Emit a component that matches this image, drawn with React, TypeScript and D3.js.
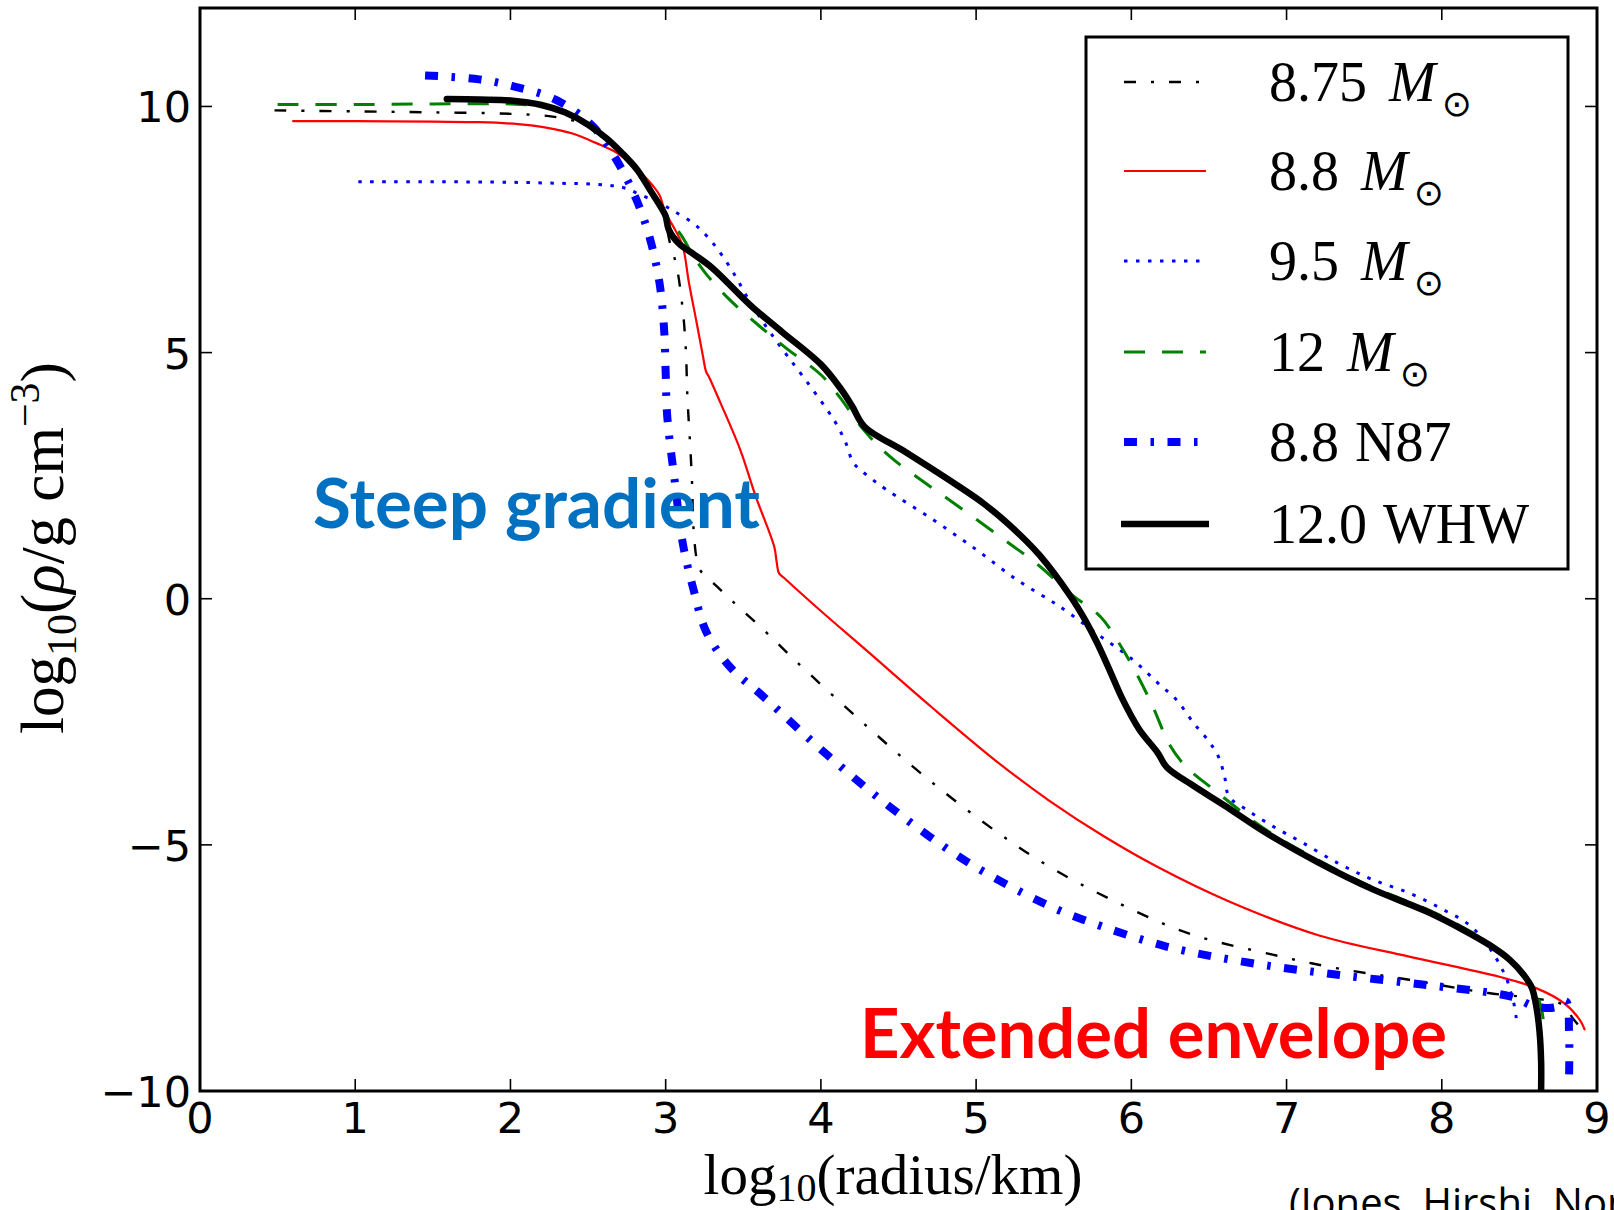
import React from 'react';
import * as d3 from 'd3';

type Pt = [number, number];

// Axis ticks
const xTicks = [0, 1, 2, 3, 4, 5, 6, 7, 8, 9];
const yTicks = [-10, -5, 0, 5, 10];

// Density profiles: [log10(radius/km), log10(rho / g cm^-3)]
const m875: Pt[] = [
  [0.48, 9.92], [1.0, 9.9], [1.5, 9.88], [2.0, 9.85], [2.3, 9.78], [2.5, 9.6], [2.7, 9.1],
  [2.85, 8.5], [2.97, 7.95], [3.03, 7.2], [3.07, 6.76], [3.11, 5.87], [3.13, 5.06], [3.14, 4.11],
  [3.16, 3.0], [3.17, 2.35], [3.18, 1.4], [3.2, 0.8], [3.22, 0.59], [3.33, 0.25], [3.43, -0.05],
  [3.63, -0.63], [3.84, -1.27], [4.25, -2.46], [4.68, -3.64], [5.13, -4.73], [5.47, -5.44],
  [5.85, -6.08], [6.36, -6.79], [6.91, -7.23], [7.33, -7.51], [7.79, -7.74], [8.3, -8.01],
  [8.6, -8.12], [8.78, -8.25], [8.85, -8.55], [8.92, -8.8],
];

const m88: Pt[] = [
  [0.6, 9.7], [1.0, 9.7], [1.5, 9.69], [1.8, 9.68], [2.05, 9.64], [2.23, 9.57], [2.4, 9.45],
  [2.55, 9.26], [2.68, 9.07], [2.77, 8.86], [2.85, 8.62], [2.92, 8.38], [2.96, 8.2], [3.0, 7.84],
  [3.06, 7.5], [3.11, 7.16], [3.15, 6.42], [3.2, 5.6], [3.24, 4.93], [3.26, 4.62], [3.28, 4.5],
  [3.35, 4.0], [3.48, 3.03], [3.58, 2.08], [3.7, 1.05], [3.715, 0.75], [3.73, 0.52],
  [3.76, 0.43], [4.0, -0.25], [4.29, -1.04], [4.72, -2.22], [5.15, -3.35], [5.47, -4.1],
  [5.82, -4.82], [6.17, -5.45], [6.63, -6.15], [7.21, -6.84], [7.79, -7.27], [8.37, -7.68],
  [8.6, -7.9], [8.79, -8.22], [8.89, -8.56], [8.92, -8.75],
];

const m95: Pt[] = [
  [1.02, 8.47], [1.5, 8.47], [2.0, 8.46], [2.3, 8.44], [2.55, 8.42], [2.68, 8.38], [2.75, 8.33],
  [2.82, 8.23], [2.9, 8.12], [2.96, 8.04], [3.05, 7.88], [3.18, 7.62], [3.27, 7.35], [3.36, 6.99],
  [3.45, 6.55], [3.53, 6.1], [3.6, 5.75], [3.68, 5.38], [3.78, 4.95], [3.9, 4.45], [4.04, 3.84],
  [4.1, 3.55], [4.16, 3.17], [4.21, 2.76], [4.3, 2.5], [4.42, 2.22], [4.72, 1.61], [5.0, 1.0],
  [5.26, 0.39], [5.47, -0.02], [5.54, -0.16], [5.8, -0.76], [6.01, -1.24], [6.17, -1.71],
  [6.29, -2.05], [6.4, -2.52], [6.5, -2.9], [6.56, -3.2], [6.6, -3.6], [6.63, -4.02],
  [6.75, -4.3], [6.91, -4.62], [7.1, -4.95], [7.33, -5.37], [7.55, -5.7], [7.79, -5.98],
  [8.0, -6.3], [8.19, -6.66], [8.33, -7.2], [8.42, -7.74], [8.44, -7.95], [8.46, -8.15],
  [8.48, -8.52],
];

const m12: Pt[] = [
  [0.5, 10.04], [1.0, 10.04], [1.5, 10.05], [2.0, 10.05], [2.2, 10.0], [2.35, 9.88], [2.5, 9.63],
  [2.62, 9.35], [2.72, 9.05], [2.82, 8.7], [2.9, 8.3], [2.97, 7.95], [3.03, 7.6], [3.09, 7.43],
  [3.18, 6.95], [3.26, 6.6], [3.41, 6.08], [3.6, 5.55], [3.78, 5.08], [4.0, 4.55], [4.12, 4.1],
  [4.27, 3.45], [4.44, 2.9], [4.65, 2.4], [4.83, 2.0], [5.15, 1.27], [5.41, 0.66], [5.6, 0.12],
  [5.8, -0.36], [5.92, -0.9], [6.03, -1.5], [6.14, -2.2], [6.24, -2.93], [6.32, -3.3],
  [6.37, -3.47], [6.52, -3.85], [6.87, -4.7], [7.2, -5.3], [7.56, -5.87], [7.9, -6.3],
  [8.14, -6.68], [8.3, -6.98], [8.44, -7.3], [8.53, -7.62], [8.6, -7.95], [8.64, -8.3],
  [8.66, -8.7],
];

const n87: Pt[] = [
  [1.45, 10.63], [1.8, 10.55], [2.02, 10.41], [2.29, 10.14], [2.53, 9.6], [2.68, 8.93],
  [2.81, 8.12], [2.9, 7.3], [2.96, 6.42], [2.99, 5.47], [3.0, 4.6], [3.01, 3.71], [3.06, 2.35],
  [3.11, 1.13], [3.18, 0.18], [3.26, -0.66], [3.41, -1.37], [3.63, -1.99], [4.04, -3.17],
  [4.47, -4.29], [4.94, -5.34], [5.43, -6.18], [5.69, -6.52], [6.22, -7.06], [6.77, -7.4],
  [7.33, -7.64], [7.91, -7.85], [8.44, -8.08], [8.6, -8.28], [8.73, -8.3], [8.8, -8.18],
  [8.82, -8.8], [8.82, -9.7],
];

const whw: Pt[] = [
  [1.59, 10.15], [1.8, 10.14], [2.0, 10.12], [2.2, 10.03], [2.35, 9.88], [2.5, 9.63],
  [2.62, 9.35], [2.72, 9.05], [2.82, 8.7], [2.9, 8.3], [2.97, 7.95], [3.0, 7.77], [3.02, 7.5],
  [3.09, 7.2], [3.18, 7.0], [3.3, 6.72], [3.55, 5.95], [3.75, 5.42], [4.0, 4.76], [4.12, 4.3],
  [4.2, 3.92], [4.28, 3.5], [4.55, 2.97], [4.88, 2.3], [5.05, 1.93], [5.21, 1.51],
  [5.41, 0.88], [5.61, 0.04], [5.7, -0.42], [5.78, -0.9], [5.86, -1.45], [5.94, -2.02],
  [6.05, -2.65], [6.17, -3.13], [6.23, -3.43], [6.4, -3.8], [6.6, -4.2], [6.87, -4.76],
  [7.2, -5.35], [7.56, -5.91], [7.9, -6.35], [8.14, -6.73], [8.3, -7.02], [8.44, -7.34],
  [8.53, -7.65], [8.58, -7.9], [8.61, -8.3], [8.63, -8.8], [8.64, -9.4], [8.64, -10],
];

// Legend entries: numeric part and what follows it
const legendNumbers = ['8.75', '8.8', '9.5', '12', '8.8', '12.0'];
const legendSuffix = ['Msun', 'Msun', 'Msun', 'Msun', 'N87', 'WHW'];

interface Series {
  data: Pt[];
  color: string;
  width: number;
  dash?: string;
}

const series: Series[] = [
  { data: m875, color: '#000000', width: 2.4, dash: '12,15,3,15' },
  { data: m88, color: '#ff0000', width: 2.2 },
  { data: m95, color: '#0000ff', width: 3, dash: '3.5,8.5' },
  { data: m12, color: '#008000', width: 3, dash: '21,17' },
  { data: n87, color: '#0000ff', width: 8, dash: '13,13.5,3.5,13.5' },
  { data: whw, color: '#000000', width: 6.5 },
];

const W = 1614;
const H = 1210;
const plot = { left: 200, right: 1597, top: 8, bottom: 1091 };
const legendBox = { left: 1086, top: 37, right: 1568, bottom: 569 };
const legendRowY = [82, 171, 261, 352, 442, 524];

const serif = '"Liberation Serif", "DejaVu Serif", serif';
const sans = '"DejaVu Sans", sans-serif';

function fmtTick(v: number): string {
  return v < 0 ? '\u2212' + Math.abs(v) : String(v);
}

export default function App() {
  const x = d3.scaleLinear().domain([0, 9]).range([plot.left, plot.right]);
  const y = d3.scaleLinear().domain([-10, 12]).range([plot.bottom, plot.top]);

  const line = d3
    .line<Pt>()
    .x((d) => x(d[0]))
    .y((d) => y(d[1]))
    .curve(d3.curveCatmullRom.alpha(0.5));

  const tickLen = 12;

  return (
    <svg
      width={W}
      height={H}
      viewBox={`0 0 ${W} ${H}`}
      style={{ position: 'absolute', left: 0, top: 0, display: 'block', background: '#fff' }}
    >
      <defs>
        <clipPath id="plotArea">
          <rect x={plot.left} y={plot.top} width={plot.right - plot.left} height={plot.bottom - plot.top} />
        </clipPath>
      </defs>
      <rect x={0} y={0} width={W} height={H} fill="#fff" />

      {/* curves */}
      <g clipPath="url(#plotArea)" fill="none">
        {series.map((s, i) => (
          <path
            key={i}
            d={line(s.data) || ''}
            stroke={s.color}
            strokeWidth={s.width}
            strokeDasharray={s.dash}
            strokeLinejoin="round"
            strokeLinecap={s.dash ? 'butt' : 'round'}
          />
        ))}
      </g>

      {/* ticks */}
      <g stroke="#000" strokeWidth={1.6}>
        {xTicks.map((t) => (
          <g key={'xt' + t}>
            <line x1={x(t)} x2={x(t)} y1={plot.bottom} y2={plot.bottom - tickLen} />
            <line x1={x(t)} x2={x(t)} y1={plot.top} y2={plot.top + tickLen} />
          </g>
        ))}
        {yTicks.map((t) => (
          <g key={'yt' + t}>
            <line x1={plot.left} x2={plot.left + tickLen} y1={y(t)} y2={y(t)} />
            <line x1={plot.right} x2={plot.right - tickLen} y1={y(t)} y2={y(t)} />
          </g>
        ))}
      </g>

      {/* frame */}
      <rect
        x={plot.left}
        y={plot.top}
        width={plot.right - plot.left}
        height={plot.bottom - plot.top}
        fill="none"
        stroke="#000"
        strokeWidth={3}
      />

      {/* tick labels */}
      <g fontFamily={sans} fontSize={43} fill="#000">
        {xTicks.map((t) => (
          <text key={'xl' + t} x={x(t)} y={1133} textAnchor="middle">
            {fmtTick(t)}
          </text>
        ))}
        {yTicks.map((t) => (
          <text key={'yl' + t} x={plot.left - 9} y={y(t) + 16} textAnchor="end">
            {fmtTick(t)}
          </text>
        ))}
      </g>

      {/* axis titles */}
      <text x={893} y={1194} textAnchor="middle" fontFamily={serif} fontSize={57} fill="#000">
        log
        <tspan fontSize={40} dy={7}>10</tspan>
        <tspan dy={-7}>(radius/km)</tspan>
      </text>
      <text
        transform="translate(63,548) rotate(-90)"
        textAnchor="middle"
        fontFamily={serif}
        fontSize={61}
        fill="#000"
      >
        log
        <tspan fontSize={42} dy={13}>10</tspan>
        <tspan dy={-13}>(</tspan>
        <tspan fontStyle="italic">ρ</tspan>
        <tspan>/g cm</tspan>
        <tspan fontSize={42} dy={-24}>{'\u22123'}</tspan>
        <tspan dy={24}>)</tspan>
      </text>

      {/* legend */}
      <rect
        x={legendBox.left}
        y={legendBox.top}
        width={legendBox.right - legendBox.left}
        height={legendBox.bottom - legendBox.top}
        fill="#fff"
        stroke="#000"
        strokeWidth={3}
      />
      {series.map((s, i) => {
        const ly = legendRowY[i];
        const thick = i === 5;
        return (
          <g key={'lg' + i}>
            <line
              x1={thick ? 1121 : 1124}
              x2={thick ? 1209 : 1206}
              y1={ly}
              y2={ly}
              stroke={s.color}
              strokeWidth={s.width}
              strokeDasharray={s.dash}
              strokeLinecap="butt"
            />
            <text x={1269} y={ly + 19} fontFamily={serif} fontSize={56} fill="#000">
              {legendNumbers[i]}
              {legendSuffix[i] === 'Msun' ? (
                <>
                  <tspan dx={22} fontStyle="italic">M</tspan>
                  <tspan dx={6} dy={15} fontSize={36} fontFamily={sans}>⊙</tspan>
                </>
              ) : (
                <tspan dx={16}>{legendSuffix[i]}</tspan>
              )}
            </text>
          </g>
        );
      })}

      {/* annotations */}
      <text
        x={313}
        y={528}
        fontFamily='Lato, "Open Sans", sans-serif'
        fontWeight="bold"
        fontSize={68}
        fill="#0070c0"
        textLength={447}
        lengthAdjust="spacingAndGlyphs"
      >
        Steep gradient
      </text>
      <text
        x={860}
        y={1058}
        fontFamily='Lato, "Open Sans", sans-serif'
        fontWeight="bold"
        fontSize={68}
        fill="#ff0000"
        textLength={587}
        lengthAdjust="spacingAndGlyphs"
      >
        Extended envelope
      </text>
      <text x={1289} y={1217} fontFamily='"Open Sans", sans-serif' fontSize={40} fill="#000">
        (Jones, Hirshi, Nomoto 2013)
      </text>
    </svg>
  );
}
